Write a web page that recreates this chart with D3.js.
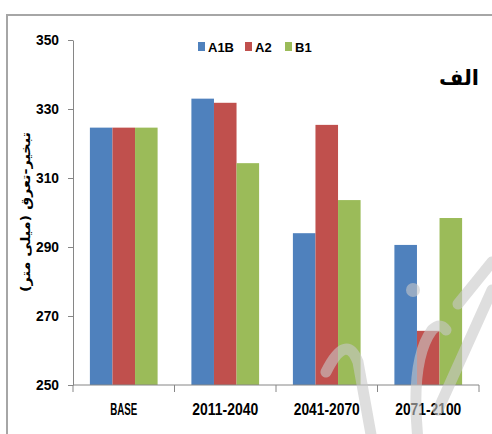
<!DOCTYPE html>
<html>
<head>
<meta charset="utf-8">
<script src="https://cdnjs.cloudflare.com/ajax/libs/d3/7.8.5/d3.min.js"></script>
<style>
  body { margin: 0; background: #fff; }
  svg { display: block; }
</style>
</head>
<body>
<div id="chart"></div>
<script>
// data
const periods = ['BASE', '2011-2040', '2041-2070', '2071-2100'];
const seriesNames = ['A1B', 'A2', 'B1'];
const a1b = [324.6, 333.0, 294.0, 290.6];
const a2 = [324.6, 331.8, 325.4, 265.7];
const b1 = [324.6, 314.3, 303.6, 298.4];
const yTicks = [250, 270, 290, 310, 330, 350];
const colors = ['#4F81BD', '#C0504D', '#9BBB59'];

const svgWidth = 492, svgHeight = 434;
const margin = { top: 40, right: 13, bottom: 49, left: 73 };
const width = svgWidth - margin.left - margin.right;
const height = svgHeight - margin.top - margin.bottom;

const svg = d3.select('#chart').append('svg')
    .attr('width', svgWidth)
    .attr('height', svgHeight);

// outer frame (cropped on the right and bottom)
svg.append('path')
    .attr('d', `M7,${svgHeight} V15 H${svgWidth}`)
    .attr('fill', 'none')
    .attr('stroke', '#a6a6a6')
    .attr('stroke-width', 2);

const chartGroup = svg.append('g')
    .attr('transform', `translate(${margin.left}, ${margin.top})`);

const x0 = d3.scaleBand()
    .domain(periods)
    .range([0, width])
    .paddingInner(0.333)
    .paddingOuter(0.1665);

const x1 = d3.scaleBand()
    .domain(seriesNames)
    .range([0, x0.bandwidth()]);

const y = d3.scaleLinear()
    .domain([250, 350])
    .range([height, 0]);

const table = periods.map((p, i) => ({
    period: p,
    values: [a1b[i], a2[i], b1[i]]
}));

// bars
const groups = chartGroup.selectAll('.grp')
    .data(table)
    .enter()
    .append('g')
    .attr('transform', d => `translate(${x0(d.period)}, 0)`);

groups.selectAll('rect')
    .data(d => d.values.map((v, j) => ({ name: seriesNames[j], value: v, color: colors[j] })))
    .enter()
    .append('rect')
    .attr('x', d => x1(d.name))
    .attr('width', x1.bandwidth())
    .attr('y', d => y(d.value))
    .attr('height', d => height - y(d.value))
    .attr('fill', d => d.color);

// y axis
const leftAxis = d3.axisLeft(y).tickValues(yTicks).tickSize(5).tickSizeOuter(0).tickPadding(9);
const gy = chartGroup.append('g').call(leftAxis);
gy.select('.domain').attr('stroke', '#868686');
gy.selectAll('.tick line').attr('stroke', '#868686');
gy.selectAll('.tick text')
    .attr('font-family', '"Liberation Sans", Arial, sans-serif')
    .attr('font-weight', 'bold')
    .attr('font-size', 15)
    .attr('fill', '#000')
    .attr('textLength', 23)
    .attr('lengthAdjust', 'spacingAndGlyphs');

// x axis: ticks on category boundaries
const gx = chartGroup.append('g').attr('transform', `translate(0, ${height})`);
gx.append('line')
    .attr('x1', 0).attr('x2', width)
    .attr('stroke', '#868686');
const step = x0.step();
gx.selectAll('.bt')
    .data(d3.range(periods.length + 1))
    .enter()
    .append('line')
    .attr('x1', i => i * step).attr('x2', i => i * step)
    .attr('y1', 0).attr('y2', 7)
    .attr('stroke', '#868686');
gx.selectAll('.xl')
    .data(periods)
    .enter()
    .append('text')
    .attr('x', d => x0(d) + x0.bandwidth() / 2)
    .attr('y', 30)
    .attr('text-anchor', 'middle')
    .attr('font-family', '"Liberation Sans Narrow", "Liberation Sans", Arial, sans-serif')
    .attr('font-weight', 'bold')
    .attr('font-size', 16)
    .attr('textLength', d => d === 'BASE' ? 27 : 66)
    .attr('lengthAdjust', 'spacingAndGlyphs')
    .text(d => d);

// legend
const legend = svg.append('g').attr('transform', 'translate(198, 42)');
const lx = [0, 47, 87];
seriesNames.forEach((s, i) => {
    legend.append('rect')
        .attr('x', lx[i]).attr('y', 0)
        .attr('width', 7).attr('height', 9)
        .attr('fill', colors[i]);
    legend.append('text')
        .attr('x', lx[i] + 10).attr('y', 9.5)
        .attr('font-family', '"Liberation Sans", Arial, sans-serif')
        .attr('font-weight', 'bold')
        .attr('font-size', 13)
        .text(s);
});

// panel label
svg.append('text')
    .attr('x', 459).attr('y', 85)
    .attr('text-anchor', 'middle')
    .attr('font-family', '"DejaVu Sans", sans-serif')
    .attr('font-weight', 'bold')
    .attr('font-size', 21)
    .text('الف');

// y axis title
svg.append('text')
    .attr('transform', 'translate(30, 212) rotate(-90)')
    .attr('text-anchor', 'middle')
    .attr('font-family', '"DejaVu Sans", sans-serif')
    .attr('font-weight', 'bold')
    .attr('font-size', 13)
    .attr('textLength', 160)
    .attr('lengthAdjust', 'spacingAndGlyphs')
    .text('تبخیر-تعرق (میلی متر)');

// faint watermark strokes over the lower right
const wm = svg.append('g')
    .attr('fill', 'none')
    .attr('stroke', '#c8c8c8')
    .attr('stroke-opacity', 0.6)
    .attr('stroke-width', 11)
    .attr('stroke-linecap', 'round');
wm.append('path').attr('d', 'M326,372 Q346,332 358,362 L372,440');
wm.append('path').attr('d', 'M418,440 Q410,360 432,330 Q440,322 446,330');
wm.append('path').attr('d', 'M438,410 L492,290');
wm.append('path').attr('d', 'M458,304 L492,262');
wm.append('circle').attr('cx', 413).attr('cy', 290).attr('r', 7)
    .attr('stroke', 'none').attr('fill', '#c8c8c8').attr('fill-opacity', 0.6);
</script>
</body>
</html>
